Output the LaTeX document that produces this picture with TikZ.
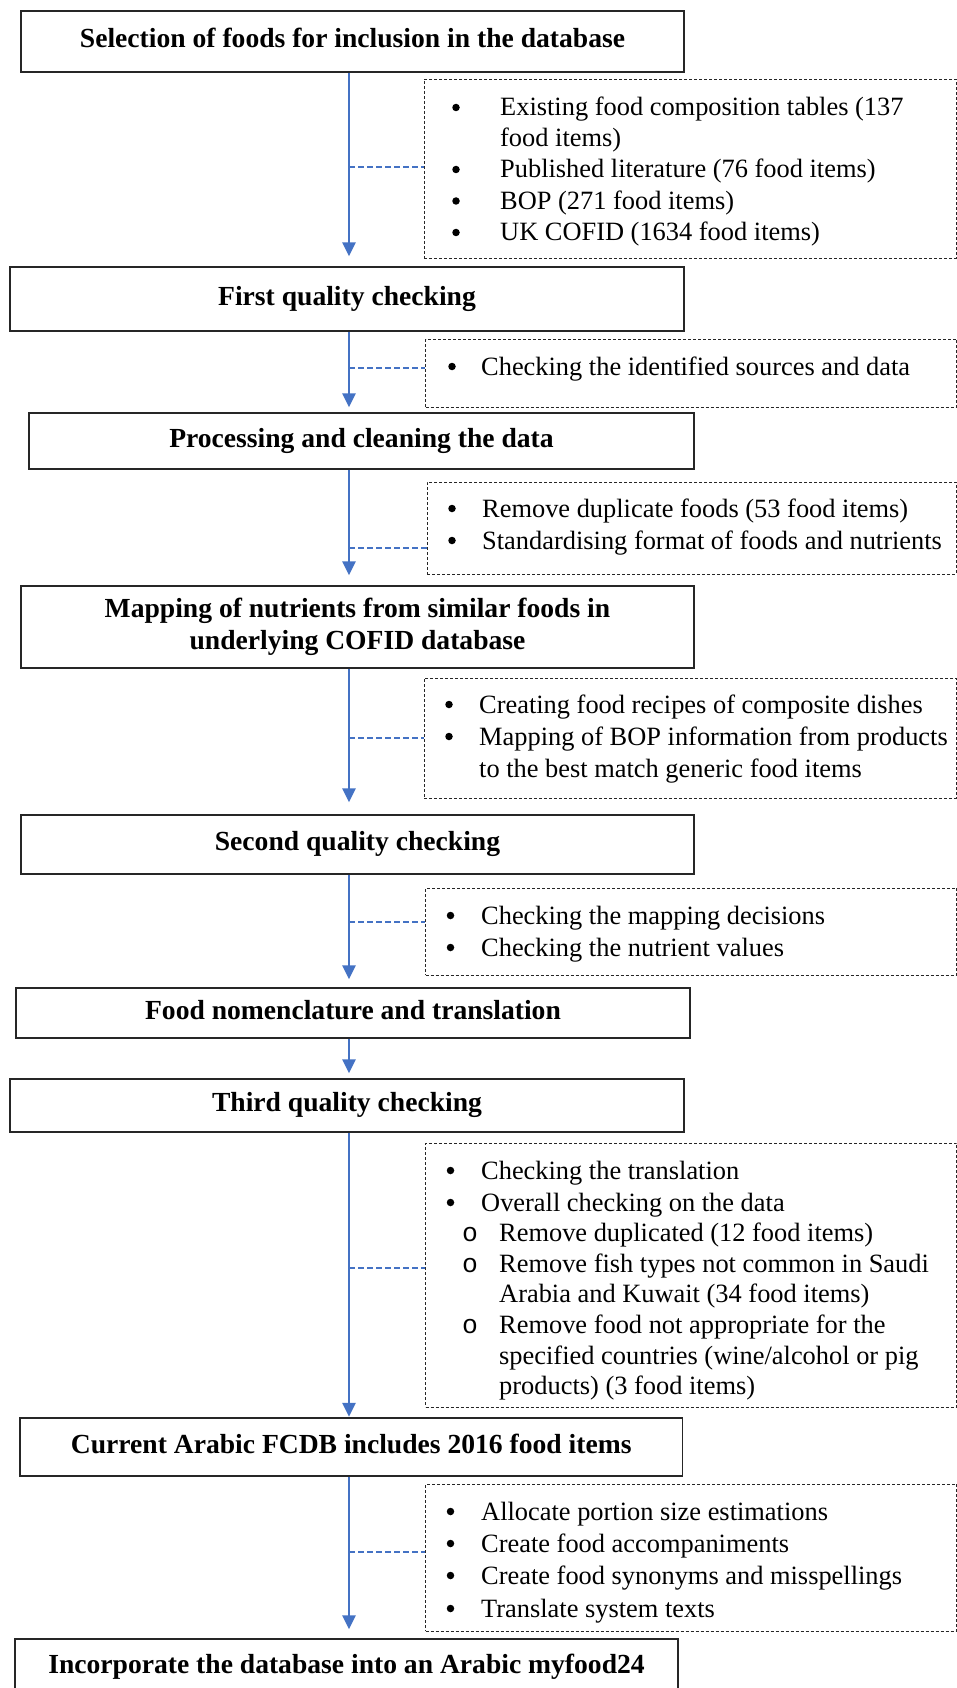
\documentclass[tikz,border=0pt]{standalone}
\usepackage{fontspec}
\setmainfont{Liberation Serif}
\newfontfamily\monofont{Liberation Mono}
\usetikzlibrary{arrows.meta}
\definecolor{arrblue}{RGB}{68,114,196}
\newcommand{\bitem}[5]{%
  \node[dot] (#1b) at (#2,#4-8.5) {};
  \node[itm] (#1) at (#3,#4) {#5};}
\newcommand{\sitem}[5]{%
  \node[bul] (#1b) at (#2,#4) {\monofont o};
  \node[itm] (#1) at (#3,#4) {#5};}
\begin{document}
\begin{tikzpicture}[x=1pt,y=-1pt,
  box/.style={draw=black!85, line width=1.4pt, font=\fontsize{27.6}{32}\selectfont\bfseries, align=center, inner sep=0pt},
  one/.style={text height=18pt, text depth=6pt},
  dbox/.style={draw=black!85, line width=0.9pt, dash pattern=on 3pt off 2pt},
  arr/.style={draw=arrblue, line width=2.6pt, -{Triangle[length=14pt,width=13pt]}},
  conn/.style={draw=arrblue, line width=1.8pt, dash pattern=on 6pt off 3pt},
  itm/.style={anchor=base west, inner sep=0pt, font=\fontsize{26.4}{31.5}\selectfont},
  bul/.style={anchor=base, inner sep=0pt, font=\fontsize{26.4}{31.5}\selectfont},
  dot/.style={circle, fill=black, inner sep=0pt, minimum size=7.5pt},
]
\useasboundingbox (0,0) rectangle (957,1688);
\fill[white] (0,0) rectangle (957,1688);
\clip (0,0) rectangle (957,1688);
\coordinate (ax) at (349,0);

% main boxes
\node[box,one,minimum width=663pt,minimum height=61pt] (b1) at (352.5,41.5) {Selection of foods for inclusion in the database};
\node[box,one,minimum width=674pt,minimum height=64pt] (b2) at (347,299) {First quality checking};
\node[box,one,minimum width=665pt,minimum height=56pt] (b3) at (361.5,441) {Processing and cleaning the data};
\node[box,minimum width=673pt,minimum height=82pt] (b4) at (357.5,627) {Mapping of nutrients from similar foods in\\underlying COFID database};
\node[box,one,minimum width=673pt,minimum height=59pt] (b5) at (357.5,844.5) {Second quality checking};
\node[box,one,minimum width=674pt,minimum height=50pt] (b6) at (353,1013) {Food nomenclature and translation};
\node[box,one,minimum width=674pt,minimum height=53pt] (b7) at (347,1105.5) {Third quality checking};
\node[box,one,minimum width=662.5pt,minimum height=58pt] (b8) at (351.25,1447) {Current Arabic FCDB includes 2016 food items};
\node[box,one,minimum width=663pt,minimum height=56pt] (b9) at (346.5,1667) {Incorporate the database into an Arabic myfood24};

% dashed boxes
\node[dbox,minimum width=532pt,minimum height=179pt] (d1) at (690,168.5) {};
\node[dbox,minimum width=531pt,minimum height=68pt] (d2) at (691,373) {};
\node[dbox,minimum width=529pt,minimum height=92pt] (d3) at (691.5,528) {};
\node[dbox,minimum width=532pt,minimum height=120pt] (d4) at (690,738) {};
\node[dbox,minimum width=531pt,minimum height=87pt] (d5) at (691,931.5) {};
\node[dbox,minimum width=531pt,minimum height=264pt] (d7) at (691,1275) {};
\node[dbox,minimum width=531pt,minimum height=147pt] (d8) at (691,1557.5) {};

% list texts
\bitem{t11}{456}{500}{116}{Existing food composition tables (137}
\node[itm] (t12) at (500,147) {food items)};
\bitem{t13}{456}{500}{178}{Published literature (76 food items)}
\bitem{t14}{456}{500}{209.5}{BOP (271 food items)}
\bitem{t15}{456}{500}{241}{UK COFID (1634 food items)}

\bitem{t21}{452}{481}{375}{Checking the identified sources and data}

\bitem{t31}{452}{482}{517}{Remove duplicate foods (53 food items)}
\bitem{t32}{452}{482}{549}{Standardising format of foods and nutrients}

\bitem{t41}{449}{479}{713}{Creating food recipes of composite dishes}
\bitem{t42}{449}{479}{745}{Mapping of BOP information from products}
\node[itm] (t43) at (479,777) {to the best match generic food items};

\bitem{t51}{450.5}{481}{924}{Checking the mapping decisions}
\bitem{t52}{450.5}{481}{956}{Checking the nutrient values}

\bitem{t71}{450.5}{481}{1179}{Checking the translation}
\bitem{t72}{450.5}{481}{1211}{Overall checking on the data}
\sitem{t73}{470}{499}{1241}{Remove duplicated (12 food items)}
\sitem{t74}{470}{499}{1272}{Remove fish types not common in Saudi}
\node[itm] (t75) at (499,1302) {Arabia and Kuwait (34 food items)};
\sitem{t76}{470}{499}{1333}{Remove food not appropriate for the}
\node[itm] (t77) at (499,1364) {specified countries (wine/alcohol or pig};
\node[itm] (t78) at (499,1394) {products) (3 food items)};

\bitem{t81}{450.5}{481}{1520}{Allocate portion size estimations}
\bitem{t82}{450.5}{481}{1552}{Create food accompaniments}
\bitem{t83}{450.5}{481}{1584}{Create food synonyms and misspellings}
\bitem{t84}{450.5}{481}{1617}{Translate system texts}

% arrows
\draw[arr,shorten >=10pt] (b1.south -| ax) -- (b2.north -| ax);
\draw[arr,shorten >=5pt] (b2.south -| ax) -- (b3.north -| ax);
\draw[arr,shorten >=10pt] (b3.south -| ax) -- (b4.north -| ax);
\draw[arr,shorten >=12pt] (b4.south -| ax) -- (b5.north -| ax);
\draw[arr,shorten >=8pt] (b5.south -| ax) -- (b6.north -| ax);
\draw[arr,shorten >=5pt] (b6.south -| ax) -- (b7.north -| ax);
\draw[arr,shorten >=0.5pt] (b7.south -| ax) -- (b8.north -| ax);
\draw[arr,shorten >=9pt] (b8.south -| ax) -- (b9.north -| ax);

% dashed connectors
\coordinate (c1) at (349,167);
\coordinate (c2) at (349,368);
\coordinate (c3) at (349,548);
\coordinate (c4) at (349,738);
\coordinate (c5) at (349,922);
\coordinate (c7) at (349,1268);
\coordinate (c8) at (349,1552);
\draw[conn] (c1) -- (c1 -| d1.west);
\draw[conn] (c2) -- (c2 -| d2.west);
\draw[conn] (c3) -- (c3 -| d3.west);
\draw[conn] (c4) -- (c4 -| d4.west);
\draw[conn] (c5) -- (c5 -| d5.west);
\draw[conn] (c7) -- (c7 -| d7.west);
\draw[conn] (c8) -- (c8 -| d8.west);
\end{tikzpicture}
\end{document}
